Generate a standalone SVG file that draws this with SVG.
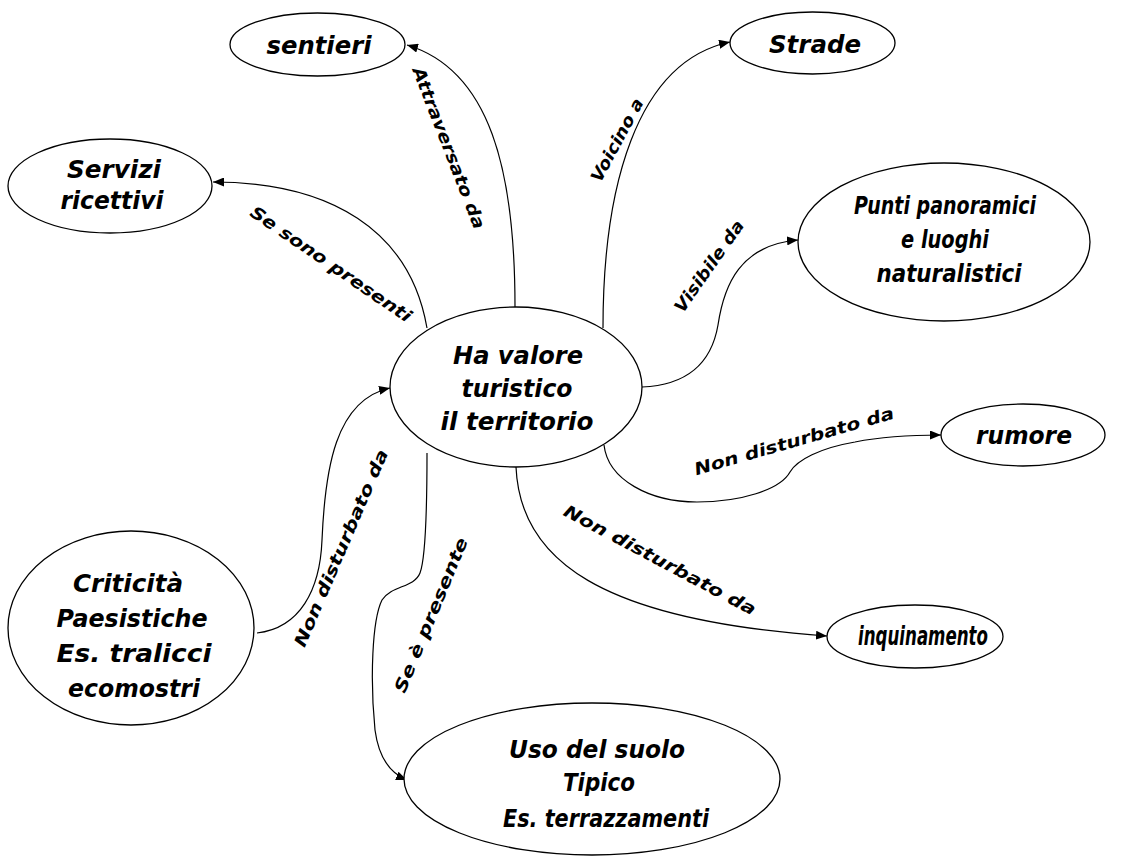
<svg xmlns="http://www.w3.org/2000/svg" width="1129" height="858" viewBox="0 0 1129 858">
<style>
.node ellipse{fill:#fff;stroke:#000;stroke-width:1.3}
.nt{font-family:"DejaVu Sans","Liberation Sans",sans-serif;font-weight:bold;font-style:oblique;font-size:25px;fill:#000;text-anchor:middle}
.conn path{fill:none;stroke:#000;stroke-width:1.2;marker-end:url(#ah)}
.lbl{font-family:"DejaVu Sans","Liberation Sans",sans-serif;font-weight:bold;font-style:oblique;font-size:17px;fill:#000;text-anchor:middle}
</style>
<defs>
<marker id="ah" markerUnits="userSpaceOnUse" markerWidth="12" markerHeight="9" refX="11" refY="4.5" orient="auto">
<path d="M0,0 L11,4.5 L0,9 z" fill="#000"/>
</marker>
</defs>
<rect width="1129" height="858" fill="#fff"/>
<g id="connectors" class="conn">
<path d="M515,307 C515,170 490,70 407,45"/>
<path d="M427,328 C410,230 330,182 213,182"/>
<path d="M603,328 C603,190 635,62 730,42"/>
<path d="M642,387 C690,385 712,360 718,325 C724,285 740,245 798,240"/>
<path d="M604,445 C608,480 650,502 697,502 C740,502 780,490 790,472 C797,460 820,448 855,442 C880,437 910,435 941,435"/>
<path d="M516,467 C520,560 600,620 827,636"/>
<path d="M257,633 C300,628 320,590 322,540 C325,470 335,400 390,388"/>
<path d="M427,453 C427,510 425,560 420,573 C414,588 392,585 382,600 C372,620 370,680 375,730 C379,760 392,774 407,780"/>
</g>
<g id="labels">
<text class="lbl" transform="translate(449,148) rotate(68.8)" dy="6" textLength="172" lengthAdjust="spacingAndGlyphs">Attraversato da</text>
<text class="lbl" transform="translate(331,264) rotate(34.4)" dy="6" textLength="191" lengthAdjust="spacingAndGlyphs">Se sono presenti</text>
<text class="lbl" transform="translate(617,140) rotate(-61.7)" dy="6" textLength="92" lengthAdjust="spacingAndGlyphs">Voicino a</text>
<text class="lbl" transform="translate(709,266) rotate(-55)" dy="6" textLength="108" lengthAdjust="spacingAndGlyphs">Visibile da</text>
<text class="lbl" transform="translate(794,441) rotate(-16)" dy="6" textLength="207" lengthAdjust="spacingAndGlyphs">Non disturbato da</text>
<text class="lbl" transform="translate(660,560) rotate(28)" dy="6" textLength="215" lengthAdjust="spacingAndGlyphs">Non disturbato da</text>
<text class="lbl" transform="translate(341,548) rotate(-66.8)" dy="6" textLength="213" lengthAdjust="spacingAndGlyphs">Non disturbato da</text>
<text class="lbl" transform="translate(431,615) rotate(-67.5)" dy="6" textLength="166" lengthAdjust="spacingAndGlyphs">Se è presente</text>
</g>
<g id="n-sentieri" class="node">
<ellipse cx="317.5" cy="44.5" rx="87.5" ry="31.5"/>
<text class="nt" x="319" y="54" textLength="105" lengthAdjust="spacingAndGlyphs">sentieri</text>
</g>
<g id="n-servizi" class="node">
<ellipse cx="110" cy="186" rx="102" ry="47"/>
<text class="nt" x="114" y="178" textLength="94" lengthAdjust="spacingAndGlyphs">Servizi</text>
<text class="nt" x="112" y="209" textLength="103" lengthAdjust="spacingAndGlyphs">ricettivi</text>
</g>
<g id="n-strade" class="node">
<ellipse cx="812.5" cy="43" rx="82.5" ry="31"/>
<text class="nt" x="815" y="53" textLength="92" lengthAdjust="spacingAndGlyphs">Strade</text>
</g>
<g id="n-punti" class="node">
<ellipse cx="944" cy="242" rx="146" ry="79"/>
<text class="nt" x="945" y="214" textLength="182" lengthAdjust="spacingAndGlyphs">Punti panoramici</text>
<text class="nt" x="945" y="248" textLength="88" lengthAdjust="spacingAndGlyphs">e luoghi</text>
<text class="nt" x="949" y="282" textLength="145" lengthAdjust="spacingAndGlyphs">naturalistici</text>
</g>
<g id="n-centrale" class="node">
<ellipse cx="516" cy="387" rx="126" ry="80"/>
<text class="nt" x="518" y="364" textLength="130" lengthAdjust="spacingAndGlyphs">Ha valore</text>
<text class="nt" x="517" y="397" textLength="111" lengthAdjust="spacingAndGlyphs">turistico</text>
<text class="nt" x="517" y="430" textLength="153" lengthAdjust="spacingAndGlyphs">il territorio</text>
</g>
<g id="n-rumore" class="node">
<ellipse cx="1023" cy="435" rx="82" ry="31"/>
<text class="nt" x="1024" y="444" textLength="96" lengthAdjust="spacingAndGlyphs">rumore</text>
</g>
<g id="n-inquinamento" class="node">
<ellipse cx="915" cy="636.5" rx="88" ry="31.5"/>
<text class="nt" x="923" y="645" style="font-size:27px" textLength="130" lengthAdjust="spacingAndGlyphs">inquinamento</text>
</g>
<g id="n-criticita" class="node">
<ellipse cx="131" cy="628" rx="123" ry="97"/>
<text class="nt" x="128" y="592" textLength="110" lengthAdjust="spacingAndGlyphs">Criticità</text>
<text class="nt" x="132" y="627" textLength="151" lengthAdjust="spacingAndGlyphs">Paesistiche</text>
<text class="nt" x="134" y="662" textLength="155" lengthAdjust="spacingAndGlyphs">Es. tralicci</text>
<text class="nt" x="134" y="697" textLength="132" lengthAdjust="spacingAndGlyphs">ecomostri</text>
</g>
<g id="n-uso" class="node">
<ellipse cx="592" cy="779" rx="188" ry="76"/>
<text class="nt" x="597" y="758" textLength="176" lengthAdjust="spacingAndGlyphs">Uso del suolo</text>
<text class="nt" x="599" y="791" textLength="72" lengthAdjust="spacingAndGlyphs">Tipico</text>
<text class="nt" x="606" y="827" textLength="206" lengthAdjust="spacingAndGlyphs">Es. terrazzamenti</text>
</g>
</svg>
